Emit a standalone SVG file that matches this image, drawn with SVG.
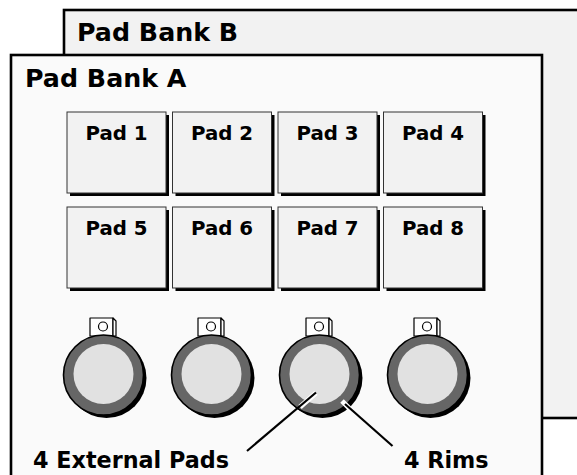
<svg xmlns="http://www.w3.org/2000/svg" width="577" height="475" viewBox="0 0 577 475">
<style>
.bank{stroke:#000;stroke-width:2.6}
.lbl{font-family:"DejaVu Sans",Verdana,sans-serif;font-weight:bold;fill:#000}
.bl{font-size:25.3px}
.pl{font-size:19.8px;text-anchor:middle}
.al{font-size:22.3px}
.pad{fill:#f2f2f2;stroke:#333;stroke-width:1}
.sh{fill:#000}
.ring{fill:#666;stroke:#000;stroke-width:1.6}
.face{fill:#e1e1e1}
.tab{fill:#fff;stroke:#000;stroke-width:1.2;stroke-linejoin:round}
.halo{stroke:#fff;stroke-width:5;stroke-linecap:butt}
.lead{stroke:#000;stroke-width:2.2;stroke-linecap:butt}
</style>
<defs>
<g id="knob">
<rect class="tab" x="-13.5" y="-57" width="23" height="18"/>
<polygon class="tab" points="9.5,-57 12.5,-54 12.5,-39 9.5,-39"/>
<circle cx="-0.5" cy="-48.5" r="4.5" fill="#fff" stroke="#000" stroke-width="1.2"/>
<circle class="sh" cx="3" cy="3" r="40"/>
<circle class="ring" cx="0" cy="0" r="40"/>
<circle class="face" cx="0" cy="-1" r="30"/>
</g>
<g id="padbox">
<rect class="sh" x="3" y="3" width="99" height="81"/>
<rect class="pad" x="0" y="0" width="99" height="81"/>
</g>
</defs>
<g id="bankB">
<rect class="bank" x="64" y="10" width="540" height="408" fill="#f2f2f2"/>
<text class="lbl bl" x="77" y="41">Pad Bank B</text>
</g>
<g id="bankA">
<rect class="bank" x="11" y="55" width="531" height="440" fill="#fafafa"/>
<text class="lbl bl" x="25" y="87">Pad Bank A</text>
</g>
<g id="pad1"><use href="#padbox" x="67" y="112"/><text class="lbl pl" x="116.5" y="140">Pad 1</text></g>
<g id="pad2"><use href="#padbox" x="172.5" y="112"/><text class="lbl pl" x="222" y="140">Pad 2</text></g>
<g id="pad3"><use href="#padbox" x="278" y="112"/><text class="lbl pl" x="327.5" y="140">Pad 3</text></g>
<g id="pad4"><use href="#padbox" x="383.5" y="112"/><text class="lbl pl" x="433" y="140">Pad 4</text></g>
<g id="pad5"><use href="#padbox" x="67" y="207"/><text class="lbl pl" x="116.5" y="235">Pad 5</text></g>
<g id="pad6"><use href="#padbox" x="172.5" y="207"/><text class="lbl pl" x="222" y="235">Pad 6</text></g>
<g id="pad7"><use href="#padbox" x="278" y="207"/><text class="lbl pl" x="327.5" y="235">Pad 7</text></g>
<g id="pad8"><use href="#padbox" x="383.5" y="207"/><text class="lbl pl" x="433" y="235">Pad 8</text></g>
<g id="ext1"><use href="#knob" x="103.5" y="375"/></g>
<g id="ext2"><use href="#knob" x="211.5" y="375"/></g>
<g id="ext3"><use href="#knob" x="319.5" y="375"/></g>
<g id="ext4"><use href="#knob" x="427.5" y="375"/></g>
<g id="connectors">
<line class="halo" x1="300" y1="407" x2="316" y2="393"/>
<line class="lead" x1="247" y1="451" x2="316" y2="392.5"/>
<line class="halo" x1="342" y1="401" x2="352" y2="411"/>
<line class="lead" x1="345" y1="404" x2="392.5" y2="446"/>
</g>
<g id="annotations">
<text class="lbl al" x="33" y="468">4 External Pads</text>
<text class="lbl al" x="404" y="468">4 Rims</text>
</g>
</svg>
